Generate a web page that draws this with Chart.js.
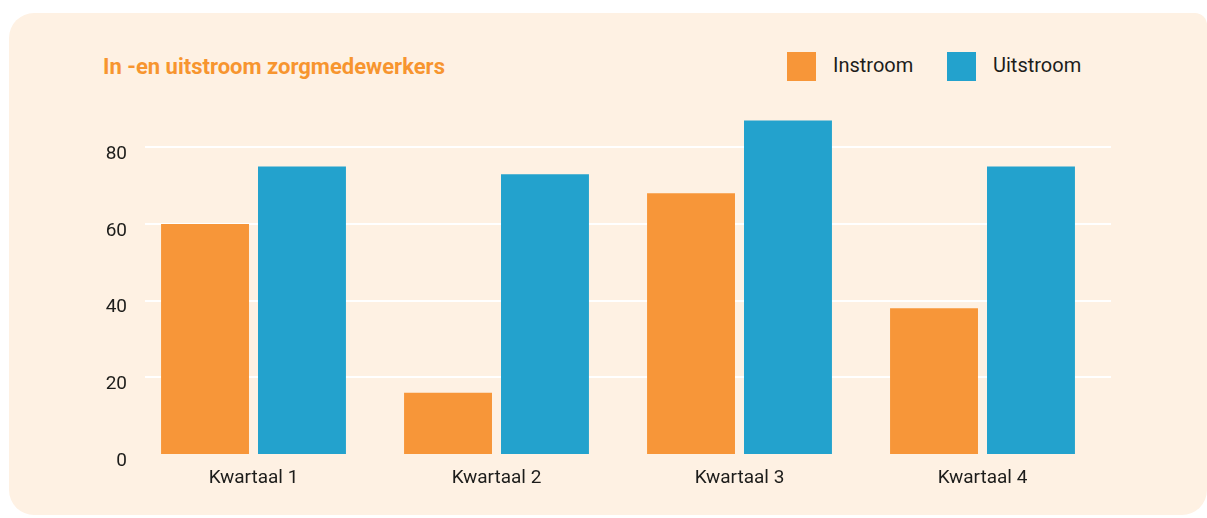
<!DOCTYPE html>
<html lang="nl">
<head>
<meta charset="utf-8">
<title>In -en uitstroom zorgmedewerkers</title>
<style>
body { margin: 0; background: #ffffff; font-family: Roboto, sans-serif; }
#wrap { position: relative; width: 1207px; height: 518px; overflow: hidden; }
#panel { position: absolute; left: 9px; top: 13px; width: 1198px; height: 502px; background: #fef1e3; border-radius: 25px 12px 25px 25px; }
#title { position: absolute; left: 103px; top: 54px; font-size: 22px; line-height: 26px; font-weight: bold; color: #f7952f; white-space: nowrap; }
#legend { position: absolute; left: 787px; top: 52px; display: flex; }
.item { display: flex; align-items: center; width: 160px; height: 29px; font-size: 20px; color: #1d1d1b; }
.item span.txt { position: relative; top: -2px; }
.box { width: 29px; height: 29px; margin-right: 17px; }
canvas { position: absolute; left: 0; top: 0; }
</style>
</head>
<body>
<div id="wrap">
<div id="panel"></div>
<div id="title">In -en uitstroom zorgmedewerkers</div>
<div id="legend"></div>
<canvas id="canvas" width="1207" height="518"></canvas>
</div>
<script src="https://cdn.jsdelivr.net/npm/chart.js"></script>
<script>

let QUARTERS = ["Kwartaal 1", "Kwartaal 2", "Kwartaal 3", "Kwartaal 4"]
let INSTROOM = [60, 16, 68, 38]
let UITSTROOM = [75, 73, 87, 75]
let Y_TICKS = [0, 20, 40, 60, 80]

let TEXT = "#1d1d1b"
let FONT = { family: "Roboto", size: 19 }

// white gridlines behind the bars, a bit wider than the plot area
let gridPlugin = {
    id: "grid",
    beforeDatasetsDraw(chart) {
        let y = chart.scales.y
        let area = chart.chartArea
        let c = chart.ctx
        c.save()
        c.strokeStyle = "#ffffff"
        c.lineWidth = 2
        y.ticks.forEach(t => {
            if (t.value == 0) return
            let py = Math.round(y.getPixelForValue(t.value))
            c.beginPath()
            c.moveTo(area.left + 13, py)
            c.lineTo(area.right + 7, py)
            c.stroke()
        })
        c.restore()
    }
}

let chart = new Chart(document.getElementById("canvas"), {
    type: "bar",
    data: {
        labels: QUARTERS,
        datasets: [
            { label: "Instroom", data: INSTROOM, backgroundColor: "#f79639" },
            { label: "Uitstroom", data: UITSTROOM, backgroundColor: "#23a2cd" },
        ]
    },
    options: {
        responsive: false,
        animation: false,
        layout: { padding: { top: 109, right: 103, left: 0, bottom: 0 } },
        datasets: {
            bar: { categoryPercentage: 0.798, barPercentage: 0.907 }
        },
        plugins: {
            legend: { display: false },
            tooltip: { enabled: false },
        },
        scales: {
            x: {
                grid: { display: false, drawTicks: false },
                border: { display: false },
                ticks: { font: FONT, color: TEXT, padding: 13 },
                afterFit: s => { s.height = 64 },
            },
            y: {
                min: 0,
                max: 90,
                grid: { display: false, drawTicks: false },
                border: { display: false },
                ticks: { font: FONT, color: TEXT, padding: 5, labelOffset: 7 },
                afterBuildTicks: s => { s.ticks = Y_TICKS.map(v => ({ value: v })) },
                afterFit: s => { s.width = 132 },
            }
        }
    },
    plugins: [gridPlugin],
})

// legend in html, built from the datasets
let legend = document.getElementById("legend")
chart.data.datasets.forEach(ds => {
    let item = document.createElement("div")
    item.className = "item"
    let box = document.createElement("span")
    box.className = "box"
    box.style.background = ds.backgroundColor
    let txt = document.createElement("span")
    txt.className = "txt"
    txt.textContent = ds.label
    item.appendChild(box)
    item.appendChild(txt)
    legend.appendChild(item)
})

</script>
</body>
</html>
